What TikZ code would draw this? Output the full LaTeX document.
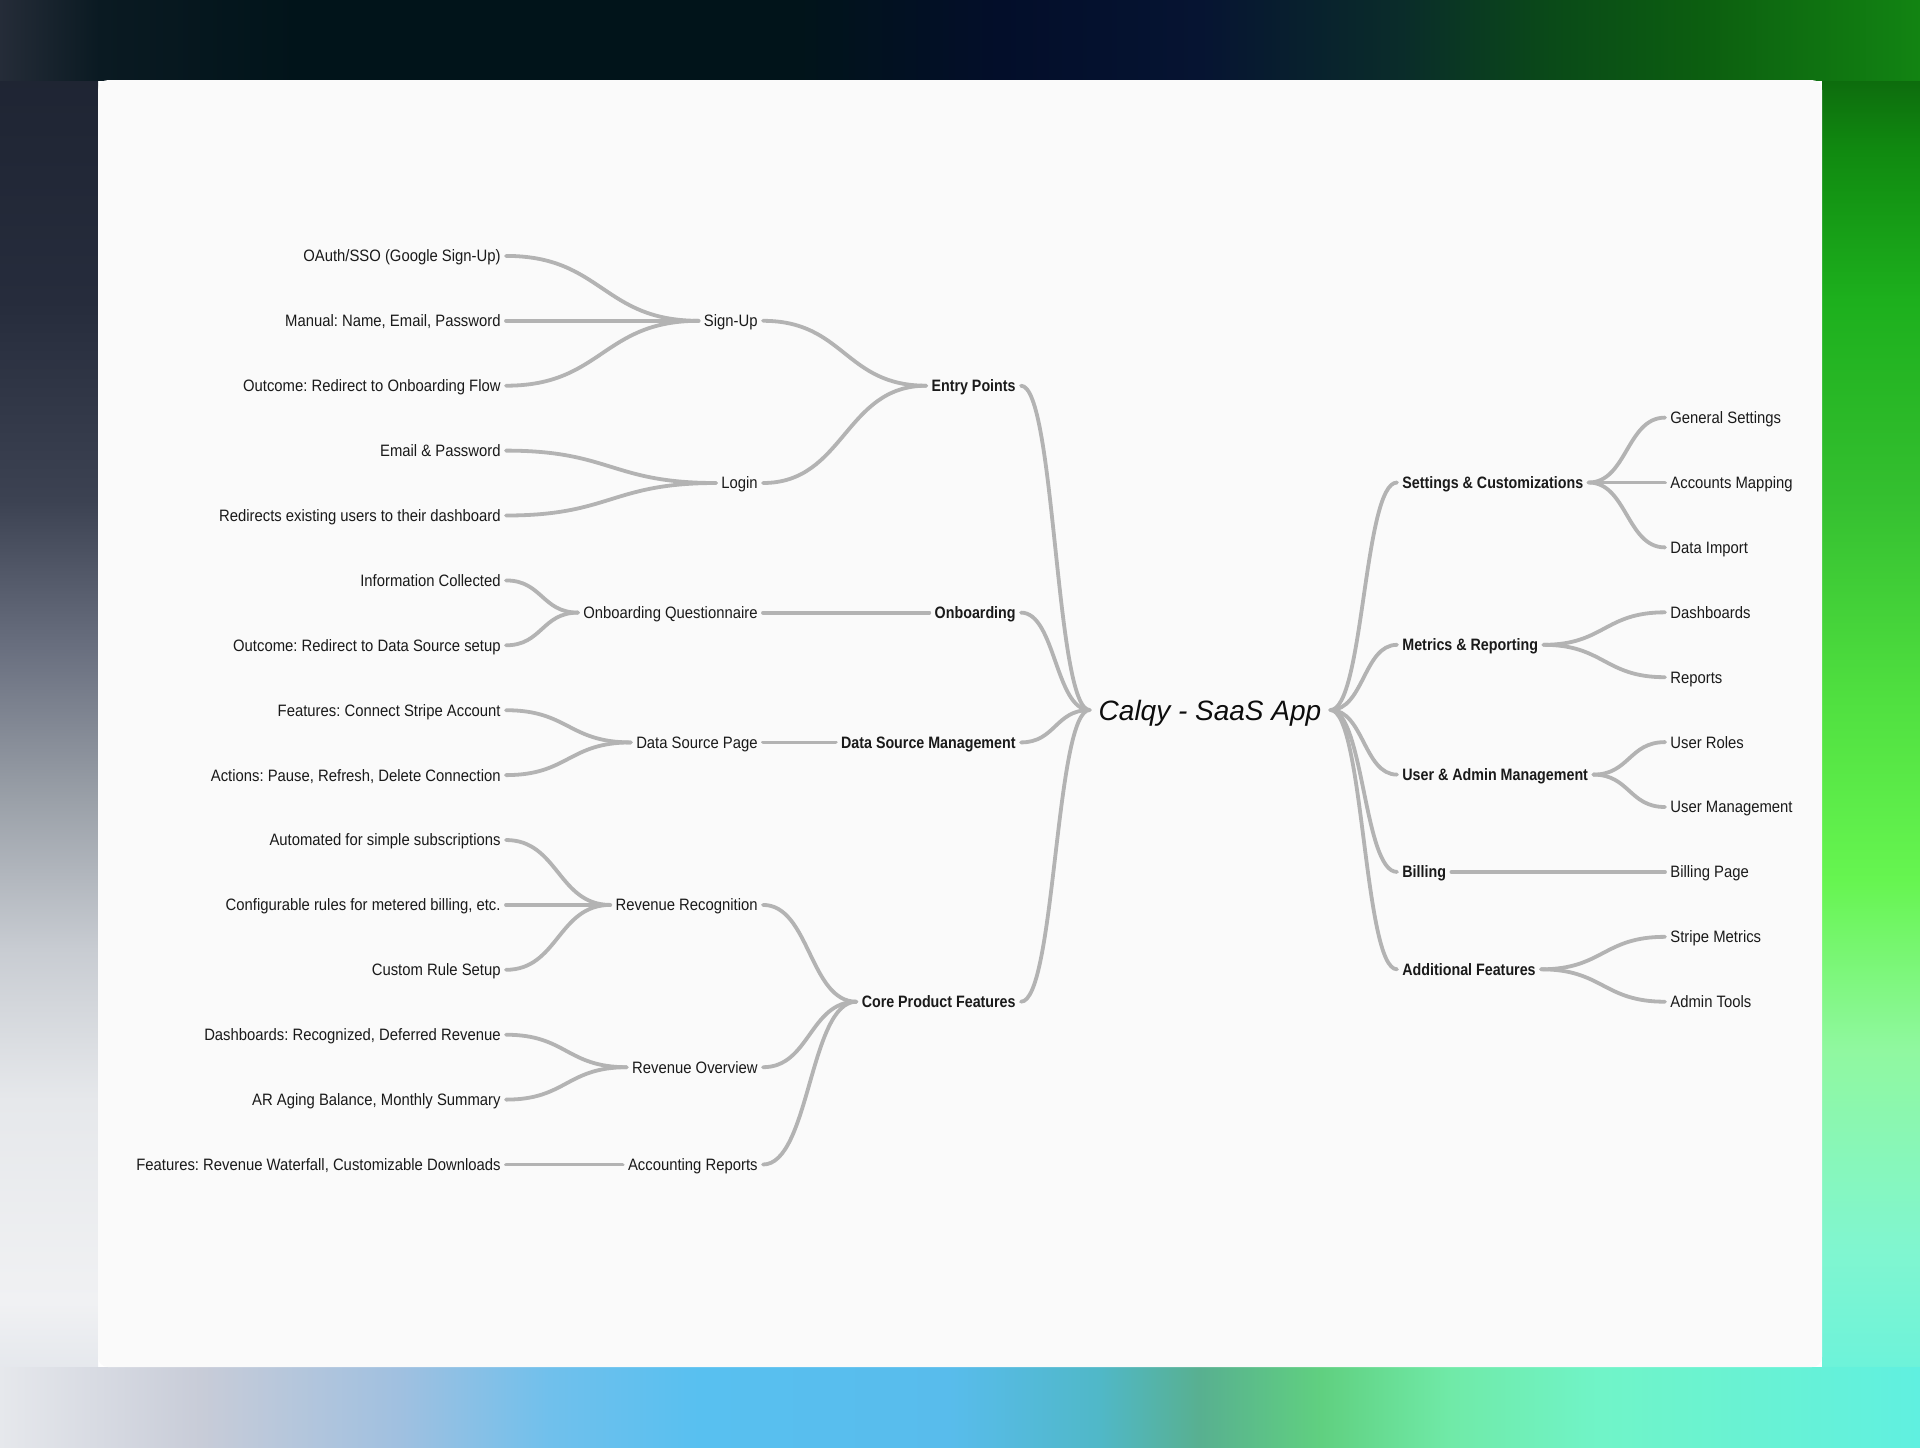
\documentclass[tikz,border=0pt]{standalone}
\usepackage{fontspec}
\setmainfont{Liberation Sans}
\newfontfamily\labelfont[FakeStretch=0.9, BoldFeatures={FakeStretch=0.865}]{Liberation Sans}
\usetikzlibrary{calc}
\frenchspacing
\definecolor{ink}{HTML}{1A1A1A}
\definecolor{edgec}{HTML}{B3B3B3}
\definecolor{cardbg}{HTML}{FAFAFA}
% top
\definecolor{t0}{HTML}{252C38}\definecolor{t1}{HTML}{0A1A22}\definecolor{t2}{HTML}{01141A}
\definecolor{t3}{HTML}{030E2A}\definecolor{t4}{HTML}{061432}\definecolor{t5}{HTML}{0A2C2A}
\definecolor{t6}{HTML}{0A4A18}\definecolor{t7}{HTML}{0C5E10}\definecolor{t8}{HTML}{128412}
% bottom
\definecolor{b0}{HTML}{E6E8EC}\definecolor{b1}{HTML}{C8CCD8}\definecolor{b2}{HTML}{A0C0E0}
\definecolor{b3}{HTML}{70C0EC}\definecolor{b4}{HTML}{58C0F0}\definecolor{b5}{HTML}{58BCEC}
\definecolor{b6}{HTML}{50B8C8}\definecolor{b7}{HTML}{58B090}\definecolor{b8}{HTML}{60D080}
\definecolor{b9}{HTML}{70EAA8}\definecolor{b10}{HTML}{70F4C8}\definecolor{b11}{HTML}{60F0E0}
% left (bottom to top)
\definecolor{l0}{HTML}{D8DDE5}\definecolor{l1}{HTML}{F0F1F3}\definecolor{l2}{HTML}{E6E8EB}
\definecolor{l3}{HTML}{C8CCD2}\definecolor{l4}{HTML}{9AA0A8}\definecolor{l5}{HTML}{6A7080}
\definecolor{l6}{HTML}{3C4252}\definecolor{l7}{HTML}{262C3C}\definecolor{l8}{HTML}{1C2230}
% right (bottom to top)
\definecolor{r0}{HTML}{60F0E0}\definecolor{r1}{HTML}{80F6D0}\definecolor{r2}{HTML}{90F8A0}
\definecolor{r3}{HTML}{66F550}\definecolor{r4}{HTML}{50E040}\definecolor{r5}{HTML}{35C030}
\definecolor{r6}{HTML}{1DB01D}\definecolor{r7}{HTML}{108A10}\definecolor{r8}{HTML}{0A4A0A}
\pgfdeclarehorizontalshading{topbg}{100bp}{color(0bp)=(t0); color(25bp)=(t0); color(27.6bp)=(t1); color(32.8bp)=(t2); color(45.8bp)=(t2); color(51bp)=(t3); color(56.25bp)=(t4); color(61.5bp)=(t5); color(65.4bp)=(t6); color(69.3bp)=(t7); color(75bp)=(t8); color(100bp)=(t8)}
\pgfdeclarehorizontalshading{botbg}{100bp}{color(0bp)=(b0); color(25bp)=(b0); color(30.2bp)=(b1); color(35.4bp)=(b2); color(39.3bp)=(b3); color(43.2bp)=(b4); color(49.7bp)=(b5); color(53.6bp)=(b6); color(56.25bp)=(b7); color(59.4bp)=(b8); color(62.8bp)=(b9); color(66.7bp)=(b10); color(75bp)=(b11); color(100bp)=(b11)}
\pgfdeclareverticalshading{leftbg}{100bp}{color(0bp)=(l0); color(25bp)=(l0); color(30bp)=(l1); color(37bp)=(l2); color(42.2bp)=(l3); color(47.4bp)=(l4); color(52.5bp)=(l5); color(57.7bp)=(l6); color(64.6bp)=(l7); color(75bp)=(l8); color(100bp)=(l8)}
\pgfdeclareverticalshading{rightbg}{100bp}{color(0bp)=(r0); color(25bp)=(r0); color(31.8bp)=(r1); color(38.7bp)=(r2); color(44.6bp)=(r3); color(50.8bp)=(r4); color(57.7bp)=(r5); color(64.6bp)=(r6); color(69.8bp)=(r7); color(75bp)=(r8); color(100bp)=(r8)}
\tikzset{
  base/.style={inner xsep=2.5pt, inner ysep=0pt, text=ink, text depth=0pt, text height=5.9pt},
  lleaf/.style={base, anchor=east, font=\labelfont\fontsize{8.25pt}{10pt}\selectfont\frenchspacing},
  lmain/.style={base, anchor=east, font=\labelfont\bfseries\fontsize{8.25pt}{10pt}\selectfont\frenchspacing},
  rleaf/.style={base, anchor=west, font=\labelfont\fontsize{8.25pt}{10pt}\selectfont\frenchspacing},
  rmain/.style={base, anchor=west, font=\labelfont\bfseries\fontsize{8.25pt}{10pt}\selectfont\frenchspacing},
  titlebox/.style={inner sep=0pt, minimum width=120pt, text=black!95, text height=10pt, text depth=0pt,
    font=\itshape\fontsize{14pt}{16pt}\selectfont},
  mm/.style={to path={let \p1=(\tikztostart), \p2=(\tikztotarget) in
    .. controls ({0.5*\x1+0.5*\x2},\y1) and ({0.5*\x1+0.5*\x2},\y2) .. (\tikztotarget)}},
  conn/.style={draw=edgec, line width=1.9pt, line cap=round, mm}
}
\begin{document}
\begin{tikzpicture}[x=0.5pt,y=-0.5pt]
\useasboundingbox (0,0) rectangle (1920,1447);
% background
\shade[shading=leftbg] (0,0) rectangle (98,1447);
\shade[shading=rightbg] (1822,0) rectangle (1920,1447);
\shade[shading=topbg] (0,0) rectangle (1920,80);
\shade[shading=botbg] (0,1367) rectangle (1920,1447);
\fill[cardbg, rounded corners=5pt] (98,80) rectangle (1822,1367);

% title
\node[titlebox] (title) at (1210,710) {Calqy - SaaS App};

% left leaves
\node[lleaf] (l1) at (506,255.9) {OAuth/SSO (Google Sign-Up)};
\node[lleaf] (l2) at (506,320.8) {Manual: Name, Email, Password};
\node[lleaf] (l3) at (506,385.7) {Outcome: Redirect to Onboarding Flow};
\node[lleaf] (l4) at (506,450.6) {Email \& Password};
\node[lleaf] (l5) at (506,515.5) {Redirects existing users to their dashboard};
\node[lleaf] (l6) at (506,580.4) {Information Collected};
\node[lleaf] (l7) at (506,645.3) {Outcome: Redirect to Data Source setup};
\node[lleaf] (l8) at (506,710.2) {Features: Connect Stripe Account};
\node[lleaf] (l9) at (506,775.1) {Actions: Pause, Refresh, Delete Connection};
\node[lleaf] (l10) at (506,840.0) {Automated for simple subscriptions};
\node[lleaf] (l11) at (506,904.9) {Configurable rules for metered billing, etc.};
\node[lleaf] (l12) at (506,969.8) {Custom Rule Setup};
\node[lleaf] (l13) at (506,1034.7) {Dashboards: Recognized, Deferred Revenue};
\node[lleaf] (l14) at (506,1099.6) {AR Aging Balance, Monthly Summary};
\node[lleaf] (l15) at (506,1164.5) {Features: Revenue Waterfall, Customizable Downloads};

% left level 2
\node[lleaf] (signup) at (763,320.8) {Sign-Up};
\node[lleaf] (login) at (763,483.0) {Login};
\node[lleaf] (oq) at (763,612.6) {Onboarding Questionnaire};
\node[lleaf] (dsp) at (763,742.4) {Data Source Page};
\node[lleaf] (rr) at (763,904.9) {Revenue Recognition};
\node[lleaf] (ro) at (763,1067.2) {Revenue Overview};
\node[lleaf] (ar) at (763,1164.5) {Accounting Reports};

% left level 1
\node[lmain] (ep) at (1021,385.7) {Entry Points};
\node[lmain] (ob) at (1021,612.6) {Onboarding};
\node[lmain] (dsm) at (1021,742.4) {Data Source Management};
\node[lmain] (cpf) at (1021,1001.7) {Core Product Features};

% right level 1
\node[rmain] (sc) at (1397,482.5) {Settings \& Customizations};
\node[rmain] (mr) at (1397,644.8) {Metrics \& Reporting};
\node[rmain] (ua) at (1397,774.6) {User \& Admin Management};
\node[rmain] (bi) at (1397,871.9) {Billing};
\node[rmain] (af) at (1397,969.3) {Additional Features};

% right leaves
\node[rleaf] (r1) at (1665,417.6) {General Settings};
\node[rleaf] (r2) at (1665,482.5) {Accounts Mapping};
\node[rleaf] (r3) at (1665,547.4) {Data Import};
\node[rleaf] (r4) at (1665,612.3) {Dashboards};
\node[rleaf] (r5) at (1665,677.2) {Reports};
\node[rleaf] (r6) at (1665,742.1) {User Roles};
\node[rleaf] (r7) at (1665,807.0) {User Management};
\node[rleaf] (r8) at (1665,871.9) {Billing Page};
\node[rleaf] (r9) at (1665,936.8) {Stripe Metrics};
\node[rleaf] (r10) at (1665,1001.7) {Admin Tools};

% connectors left
\foreach \c in {l1,l2,l3} \draw[conn] (signup.west) to (\c.east);
\foreach \c in {l4,l5} \draw[conn] (login.west) to (\c.east);
\foreach \c in {l6,l7} \draw[conn] (oq.west) to (\c.east);
\foreach \c in {l8,l9} \draw[conn] (dsp.west) to (\c.east);
\foreach \c in {l10,l11,l12} \draw[conn] (rr.west) to (\c.east);
\foreach \c in {l13,l14} \draw[conn] (ro.west) to (\c.east);
\draw[conn] (ar.west) to (l15.east);
\foreach \c in {signup,login} \draw[conn] (ep.west) to (\c.east);
\draw[conn] (ob.west) to (oq.east);
\draw[conn] (dsm.west) to (dsp.east);
\foreach \c in {rr,ro,ar} \draw[conn] (cpf.west) to (\c.east);
\foreach \c in {ep,ob,dsm,cpf} \draw[conn] (title.west) to (\c.east);
% connectors right
\foreach \c in {sc,mr,ua,bi,af} \draw[conn] (title.east) to (\c.west);
\foreach \c in {r1,r2,r3} \draw[conn] (sc.east) to (\c.west);
\foreach \c in {r4,r5} \draw[conn] (mr.east) to (\c.west);
\foreach \c in {r6,r7} \draw[conn] (ua.east) to (\c.west);
\draw[conn] (bi.east) to (r8.west);
\foreach \c in {r9,r10} \draw[conn] (af.east) to (\c.west);
\end{tikzpicture}
\end{document}
